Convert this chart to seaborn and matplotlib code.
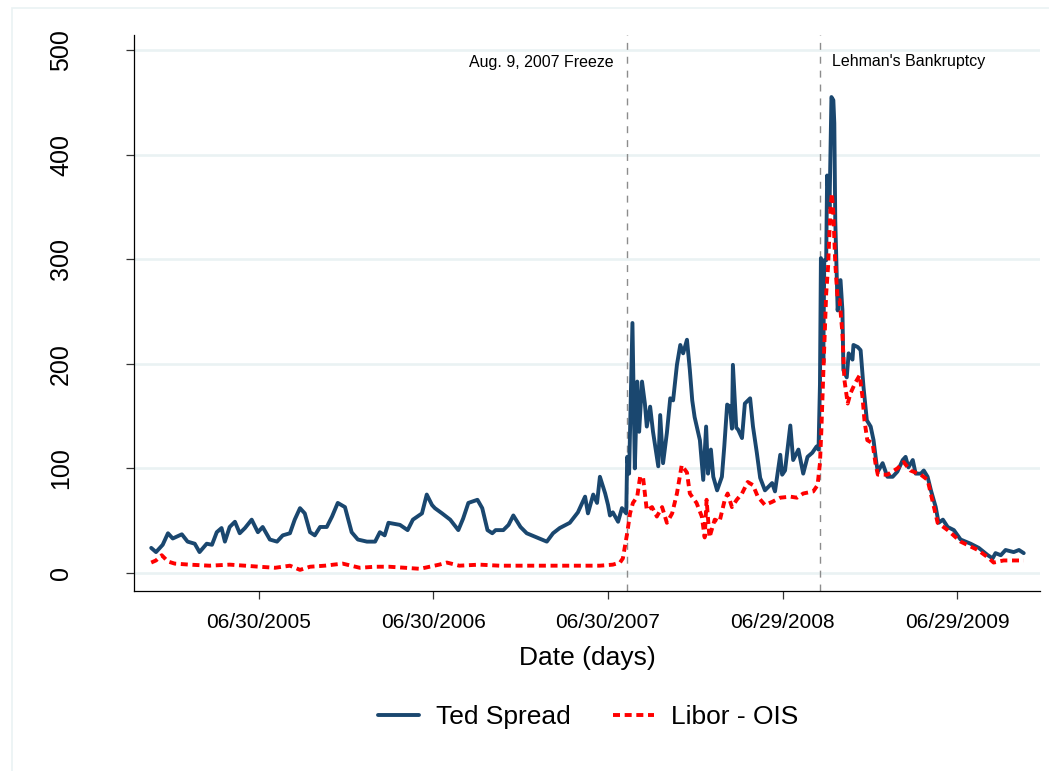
import matplotlib
matplotlib.use("Agg")
import matplotlib.pyplot as plt
import matplotlib.dates as mdates
from matplotlib.patches import Rectangle
from matplotlib.lines import Line2D
import pandas as pd
import seaborn as sns

# ---------------- data ----------------
ted_dates = [
    "2004-11-17", "2004-11-27", "2004-12-11", "2004-12-22",
    "2005-01-01", "2005-01-20", "2005-02-01", "2005-02-16", "2005-02-26", "2005-03-13", "2005-03-24",
    "2005-04-03", "2005-04-13", "2005-04-20", "2005-04-30", "2005-05-11", "2005-05-21", "2005-06-01",
    "2005-06-15", "2005-06-28", "2005-07-08", "2005-07-23", "2005-08-07", "2005-08-19", "2005-09-03",
    "2005-09-13", "2005-09-24", "2005-10-04", "2005-10-15", "2005-10-25", "2005-11-05", "2005-11-19",
    "2005-11-30", "2005-12-12", "2005-12-27",
    "2006-01-10", "2006-01-23", "2006-02-11", "2006-02-28", "2006-03-10", "2006-03-20", "2006-03-28",
    "2006-04-21", "2006-05-07", "2006-05-18", "2006-06-06", "2006-06-16", "2006-06-27", "2006-07-03",
    "2006-07-18", "2006-08-04", "2006-08-21", "2006-08-31", "2006-09-11", "2006-09-30", "2006-10-10",
    "2006-10-21", "2006-10-31", "2006-11-07", "2006-11-23", "2006-12-04", "2006-12-14", "2006-12-29",
    "2007-01-11", "2007-02-01", "2007-02-22", "2007-03-07", "2007-03-21", "2007-04-11", "2007-04-28",
    "2007-05-13", "2007-05-19", "2007-05-30", "2007-06-07", "2007-06-13", "2007-06-24", "2007-06-30",
    "2007-07-04", "2007-07-10", "2007-07-21", "2007-07-29", "2007-08-07", "2007-08-09", "2007-08-13",
    "2007-08-20", "2007-08-25", "2007-08-30", "2007-09-03", "2007-09-09", "2007-09-15", "2007-09-19",
    "2007-09-26", "2007-10-02", "2007-10-13", "2007-10-17", "2007-10-23", "2007-10-31", "2007-11-07",
    "2007-11-13", "2007-11-21", "2007-11-28", "2007-12-04", "2007-12-12", "2007-12-18", "2007-12-23",
    "2007-12-28",
    "2008-01-08", "2008-01-15", "2008-01-21", "2008-01-25", "2008-01-31", "2008-02-05", "2008-02-13",
    "2008-02-23", "2008-02-28", "2008-03-05", "2008-03-11", "2008-03-15", "2008-03-17", "2008-03-24",
    "2008-03-28", "2008-04-05", "2008-04-11", "2008-04-22", "2008-04-28", "2008-05-06", "2008-05-13",
    "2008-05-23", "2008-06-07", "2008-06-13", "2008-06-24", "2008-06-28", "2008-07-04", "2008-07-15",
    "2008-07-21", "2008-08-01", "2008-08-11", "2008-08-20", "2008-08-30", "2008-09-08", "2008-09-12",
    "2008-09-15", "2008-09-17", "2008-09-19", "2008-09-22", "2008-09-24", "2008-09-28", "2008-09-30",
    "2008-10-05", "2008-10-09", "2008-10-13", "2008-10-15", "2008-10-17", "2008-10-22", "2008-10-24",
    "2008-10-28", "2008-11-01", "2008-11-03", "2008-11-10", "2008-11-14", "2008-11-22", "2008-11-24",
    "2008-12-03", "2008-12-09", "2008-12-15", "2008-12-22", "2008-12-30",
    "2009-01-05", "2009-01-11", "2009-01-14", "2009-01-24", "2009-02-03", "2009-02-14", "2009-02-24",
    "2009-03-07", "2009-03-13", "2009-03-19", "2009-03-28", "2009-04-03", "2009-04-14", "2009-04-20",
    "2009-04-28", "2009-05-05", "2009-05-15", "2009-05-21", "2009-05-30", "2009-06-09", "2009-06-22",
    "2009-07-06", "2009-07-27", "2009-08-13", "2009-09-01", "2009-09-11", "2009-09-17", "2009-09-28",
    "2009-10-08", "2009-10-25", "2009-11-05", "2009-11-15",
]
ted_values = [
    24, 20, 27, 38,
    33, 37, 30, 28, 20, 28, 27, 39, 43, 30, 44, 49, 38, 43, 51, 39, 44, 32, 30, 36, 38,
    51, 62, 57, 39, 36, 44, 44, 54, 67, 63,
    39, 32, 30, 30, 39, 36, 48, 46, 41, 51, 57, 75, 65, 62, 57, 51, 41, 52, 67, 70, 62,
    41, 38, 41, 41, 46, 55, 44,
    38, 34, 30, 38, 43, 48, 58, 73, 57, 75, 67, 92, 76, 65, 55, 58, 49, 62, 57, 111, 95,
    239, 100, 183, 135, 183, 162, 140, 159, 135, 102, 151, 105, 134, 167, 165, 199, 218, 210,
    223, 194, 165, 149,
    127, 89, 140, 95, 118, 92, 79, 92, 121, 161, 159, 138, 199, 139, 137, 129, 162, 167, 140,
    115, 91, 79, 86, 78, 113, 94, 98, 141, 108, 118, 95, 111, 115, 121, 118, 180, 301, 297,
    201, 299, 299, 380, 350, 455, 452, 430, 337, 251, 261, 280, 251, 194, 187, 210, 204, 218,
    216, 213, 178, 146, 140,
    127, 105, 97, 105, 92, 92, 97, 108, 111, 101, 108, 95, 95, 98, 92, 79, 63, 48, 51, 44,
    41, 32, 28, 24, 17, 14, 19, 17, 22, 20, 22, 19,
]

ois_dates = [
    "2004-11-17", "2004-11-27", "2004-12-09", "2004-12-22",
    "2005-01-05", "2005-02-05", "2005-03-19", "2005-04-30", "2005-06-01", "2005-07-01", "2005-08-03",
    "2005-09-03", "2005-09-24", "2005-10-15", "2005-11-15", "2005-12-22",
    "2006-01-27", "2006-02-28", "2006-03-29", "2006-05-02", "2006-06-02", "2006-07-12", "2006-07-28",
    "2006-08-23", "2006-10-04", "2006-11-15", "2006-12-27",
    "2007-02-07", "2007-03-21", "2007-05-02", "2007-06-13", "2007-07-10", "2007-07-25", "2007-07-31",
    "2007-08-09", "2007-08-15", "2007-08-21", "2007-08-30", "2007-09-05", "2007-09-11", "2007-09-19",
    "2007-09-30", "2007-10-10", "2007-10-21", "2007-10-31", "2007-11-11", "2007-11-21", "2007-12-01",
    "2007-12-12", "2007-12-18",
    "2008-01-01", "2008-01-12", "2008-01-18", "2008-01-22", "2008-01-28", "2008-02-08", "2008-02-18",
    "2008-02-29", "2008-03-06", "2008-03-15", "2008-03-25", "2008-04-05", "2008-04-17", "2008-04-28",
    "2008-05-08", "2008-05-23", "2008-06-07", "2008-06-24", "2008-07-15", "2008-07-29", "2008-08-11",
    "2008-09-01", "2008-09-10", "2008-09-15", "2008-09-18", "2008-09-22", "2008-09-28", "2008-10-02",
    "2008-10-07", "2008-10-10", "2008-10-13", "2008-10-17", "2008-10-22", "2008-10-26", "2008-11-01",
    "2008-11-05", "2008-11-12", "2008-11-18", "2008-11-28", "2008-12-07", "2008-12-13", "2008-12-17",
    "2008-12-23",
    "2009-01-03", "2009-01-09", "2009-01-14", "2009-02-03", "2009-02-24", "2009-03-09", "2009-03-23",
    "2009-04-14", "2009-04-28", "2009-05-19", "2009-06-09", "2009-07-06", "2009-08-11", "2009-09-01",
    "2009-09-13", "2009-10-04", "2009-11-15",
]
ois_values = [
    10, 12, 17, 11,
    9, 8, 7, 8, 7, 6, 5, 7, 3, 6, 7, 9,
    5, 6, 6, 5, 4, 8, 10, 7, 8, 7, 7,
    7, 7, 7, 7, 8, 10, 14, 38, 57, 67, 73, 92, 92, 60, 63, 54, 63, 48, 57, 76, 103, 96, 76,
    67, 54, 34, 70, 34, 51, 49, 70, 76, 63, 70, 76, 87, 84, 73, 65, 68, 72, 73, 72, 76,
    78, 84, 105, 137, 191, 267, 293, 350, 363, 344, 296, 261, 261, 229, 185, 162, 172, 182,
    189, 168, 146, 127,
    124, 105, 94, 94, 100, 106, 98, 94, 89, 48, 41, 30, 22, 15, 10, 12, 12,
]

tick_dates = ["2005-06-30", "2006-06-30", "2007-06-30", "2008-06-29", "2009-06-29"]
y_ticks = [0, 100, 200, 300, 400, 500]
events = [("2007-08-09", "Aug. 9, 2007 Freeze"), ("2008-09-15", "Lehman's Bankruptcy")]
series_labels = ["Ted Spread", "Libor - OIS"]

# ---------------- styling ----------------
sns.set_theme(style="white")
plt.rcParams["font.family"] = ["Liberation Sans", "DejaVu Sans"]
plt.rcParams["text.color"] = "black"
plt.rcParams["axes.labelcolor"] = "black"
plt.rcParams["xtick.color"] = "black"
plt.rcParams["ytick.color"] = "black"

TED_COLOR = "#1a476f"
OIS_COLOR = "#ff0000"
GRID_COLOR = "#eaf2f3"
LW = 2.8

fig = plt.figure(figsize=(10.49, 7.71), dpi=100)
fig.patch.set_facecolor("white")
ax = fig.add_axes([0.12774, 0.23346, 0.86368, 0.72114])

ted = pd.DataFrame({"date": pd.to_datetime(ted_dates), "value": ted_values})
ois = pd.DataFrame({"date": pd.to_datetime(ois_dates), "value": ois_values})

sns.lineplot(data=ted, x="date", y="value", ax=ax, color=TED_COLOR, lw=LW,
             legend=False, zorder=3)
sns.lineplot(data=ois, x="date", y="value", ax=ax, color=OIS_COLOR, lw=LW,
             linestyle=(0, (1.8, 1.2)), legend=False, zorder=4)

# event lines + labels
for (d, txt), side in zip(events, ["left", "right"]):
    dt = pd.Timestamp(d)
    ax.axvline(dt, color="#8c8c8c", lw=1.0, ls=(0, (5, 5)), zorder=2)
    if side == "left":
        ax.annotate(txt, xy=(dt, 488), xytext=(-9.5, 0), textcoords="offset points",
                    ha="right", va="center", fontsize=11.5, color="black")
    else:
        ax.annotate(txt, xy=(dt, 489), xytext=(8.5, 0), textcoords="offset points",
                    ha="left", va="center", fontsize=11.5, color="black")

# axes limits / ticks
ax.set_xlim(pd.Timestamp("2004-10-12"), pd.Timestamp("2009-12-19"))
ax.set_ylim(-17.2, 514.3)
ax.set_yticks(y_ticks)
ax.set_xticks(pd.to_datetime(tick_dates))
ax.xaxis.set_major_formatter(mdates.DateFormatter("%m/%d/%Y"))

ax.yaxis.grid(True, color=GRID_COLOR, lw=1.9)
ax.xaxis.grid(False)
ax.set_axisbelow(True)

for s in ["top", "right"]:
    ax.spines[s].set_visible(False)
for s in ["left", "bottom"]:
    ax.spines[s].set_color("black")
    ax.spines[s].set_linewidth(0.9)

ax.tick_params(axis="both", which="major", bottom=True, left=True, direction="out",
               length=6, width=0.9, color="#333333", labelcolor="black")
ax.tick_params(axis="x", labelsize=15, pad=10)
ax.tick_params(axis="y", labelsize=18, pad=38)
for lab in ax.get_yticklabels():
    lab.set_rotation(90)
    lab.set_va("center")

ax.set_xlabel("Date (days)", fontsize=19, labelpad=10, color="black")
ax.set_ylabel("")

# legend
handles = [
    Line2D([], [], color=TED_COLOR, lw=LW),
    Line2D([], [], color=OIS_COLOR, lw=LW, ls=(0, (1.8, 1.2))),
]
leg = fig.legend(handles, series_labels, loc="center",
                 bbox_to_anchor=(588 / 1049, 1 - 717 / 771),
                 ncol=2, frameon=False, fontsize=19, handlelength=1.55, handletextpad=0.65,
                 columnspacing=1.6)
for t in leg.get_texts():
    t.set_color("black")

# outer graph-region frame
fig.add_artist(Rectangle((12 / 1049, -0.1), 1.2, 1.1 - 8 / 771, transform=fig.transFigure,
                         fill=False, ec=GRID_COLOR, lw=1.2, zorder=0))

fig.savefig("out.png", dpi=100)
